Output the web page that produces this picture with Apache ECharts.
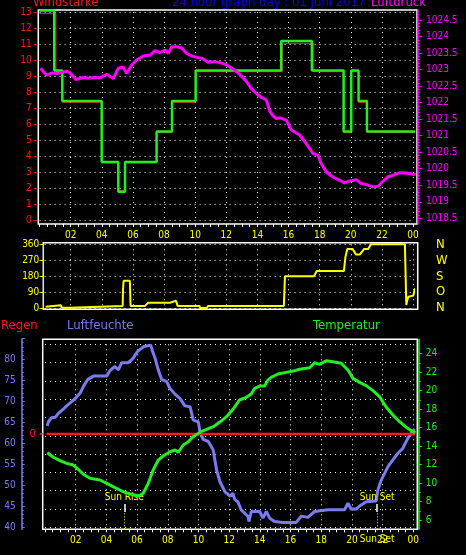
<!DOCTYPE html>
<html><head><meta charset="utf-8">
<script src="https://cdn.jsdelivr.net/npm/echarts@6/dist/echarts.min.js"></script>
<style>html,body{margin:0;padding:0;background:#000;}#c{width:466px;height:555px;}</style>
</head><body><div id="c"></div>
<script>
// ---------- data ----------
const windHours = [0.0, 0.94, 1.46, 3.99, 5.06, 5.49, 7.52, 8.51, 10.03, 15.53, 17.5, 19.54, 20.03, 20.5, 21.04, 24.17];
const windSpeed = [13.1, 9.35, 7.45, 3.65, 1.8, 3.65, 5.55, 7.45, 9.35, 11.2, 9.35, 5.55, 9.35, 7.45, 5.55, 5.55];
const windAvgHours = [0.0, 1.05, 1.46, 3.99, 5.03, 5.49, 7.52, 8.51, 10.03, 15.6, 17.62, 19.54, 20.03, 20.5, 21.04, 24.17];
const windAvg = [12.9, 9.28, 7.38, 3.6, 1.87, 3.6, 5.5, 7.38, 9.28, 11.05, 9.28, 5.5, 9.28, 7.38, 5.5, 5.5];

const pressHours = [0.07,0.25,0.46,0.8,1.1,1.45,1.74,1.95,2.34,2.81,3.15,3.45,3.88,4.31,4.74,5.06,5.38,5.6,5.92,6.24,6.67,7.1,7.42,7.74,8.06,8.27,8.49,8.81,9.13,9.45,9.78,10.1,10.42,10.84,11.2,11.6,12.02,12.43,12.86,13.28,13.6,14.04,14.3,14.57,14.79,15.0,15.21,15.43,15.86,16.18,16.72,17.14,17.57,17.89,18.1,18.43,18.85,19.29,19.6,19.93,20.36,20.67,21.0,21.43,21.75,22.07,22.39,22.82,23.14,23.57,24.0,24.17];
const pressure = [1023.04,1022.93,1022.83,1022.9,1022.88,1022.92,1022.95,1022.9,1022.7,1022.76,1022.74,1022.76,1022.75,1022.86,1022.73,1023.04,1023.07,1022.88,1023.14,1023.29,1023.41,1023.44,1023.57,1023.51,1023.59,1023.49,1023.69,1023.69,1023.66,1023.49,1023.41,1023.37,1023.34,1023.22,1023.24,1023.21,1023.14,1023.02,1022.86,1022.65,1022.43,1022.23,1022.15,1022.08,1021.75,1021.6,1021.52,1021.54,1021.47,1021.17,1021.02,1020.76,1020.46,1020.41,1020.16,1019.9,1019.75,1019.65,1019.57,1019.63,1019.67,1019.55,1019.52,1019.45,1019.47,1019.62,1019.75,1019.82,1019.88,1019.87,1019.83,1019.83];

const dirHours = [0.39,0.45,1.37,1.42,1.95,2.0,5.34,5.36,5.4,5.8,5.85,6.77,6.98,8.38,8.45,8.77,8.87,10.27,10.33,10.74,10.84,15.7,15.77,17.64,17.81,19.56,19.66,19.78,20.12,20.33,20.59,20.85,21.12,21.3,23.48,23.57,23.62,23.7,24.02,24.1,24.13];
const direction = [7,15,15,2,2,12,12,100,154,154,12,12,30,30,41,41,12,12,0,0,12,12,180,180,209,209,290,333,333,303,303,333,333,360,360,17,40,64,70,100,111];
const dirLabels = {0:'N', 90:'O', 180:'S', 270:'W', 360:'N'};

const humHours = [0.15,0.22,0.44,0.65,0.87,1.19,1.41,1.74,2.06,2.28,2.5,2.76,3.15,4.02,4.23,4.56,4.78,5.0,5.43,5.75,6.01,6.4,6.89,7.02,7.17,7.38,7.6,7.93,8.14,8.47,8.79,9.12,9.45,9.66,9.99,10.1,10.31,10.64,10.96,11.18,11.4,11.73,12.05,12.25,12.36,12.57,12.79,13.23,13.29,13.44,13.99,14.2,14.42,14.64,14.96,15.5,16.37,16.7,17.13,17.57,18.44,19.52,19.74,19.95,20.28,20.5,20.93,21.58,21.69,21.91,22.13,22.35,22.67,23.0,23.32,23.65,23.86,24.08];
const humidity = [64.1,65.1,66.1,66.1,67.1,68.1,68.9,69.9,71.0,71.9,73.5,75.1,76.0,76.0,77.3,78.3,77.5,79.2,79.2,80.3,81.8,83.0,83.4,81.8,80.3,77.5,75.2,74.7,73.1,71.7,70.7,68.9,68.7,65.5,65.1,62.7,60.9,60.4,58.4,53.6,50.8,48.4,47.4,48.0,46.6,46.0,44.1,42.5,41.3,43.7,43.7,42.1,43.7,42.1,41.3,41.1,41.1,42.6,42.3,43.7,44.1,44.1,45.7,44.3,44.3,45.0,46.0,46.2,48.8,51.2,52.8,54.4,56.0,57.6,58.8,61.2,62.4,63.4];

const tempHours = [0.15,0.54,0.98,1.41,1.84,2.17,2.49,2.93,3.58,4.02,4.56,5.1,5.65,6.08,6.4,6.73,7.05,7.38,7.7,8.14,8.47,8.68,9.01,9.34,9.66,10.1,10.53,10.96,11.4,11.83,12.25,12.68,13.11,13.44,13.66,13.99,14.31,14.53,14.74,15.18,15.72,16.27,16.59,17.24,17.57,17.89,18.33,18.76,19.3,19.74,20.07,20.5,20.93,21.37,21.8,22.24,22.67,23.11,23.54,23.97,24.15];
const temperature = [13.28,12.79,12.42,12.13,11.95,11.49,10.95,10.51,10.33,9.97,9.5,9.06,8.78,8.6,8.89,9.97,11.41,12.49,12.93,13.39,13.58,13.33,14.12,14.47,15.02,15.5,15.8,16.1,16.6,17.18,17.98,18.99,19.28,19.64,20.25,20.5,20.5,21.15,21.44,21.8,21.98,22.16,22.31,22.48,23.02,22.85,23.24,23.13,22.96,22.23,21.33,20.9,20.54,20.0,19.35,18.2,17.36,16.64,16.03,15.56,15.45];

const rainHours = [0.1, 24.15];
const rain = [0, 0];

const sunRise = 5.17, sunSet = 21.65;
const titleText = '24 hour graph day : 01 Juni 2017';

// ---------- chart ----------
const FONT = "'Liberation Sans Narrow','DejaVu Sans Condensed','Liberation Sans',sans-serif";
const C = {red:'#ff1a1a', blue:'#0000ff', mag:'#ff00ff', green:'#22ee22', yellow:'#ffff00', hum:'#7b7bef', white:'#ffffff'};
const zip = (a, b) => a.map((x, i) => [x, b[i]]);
const dotted = {show:true, showMinLine:false, lineStyle:{color:'#ffffff', type:[1,4], width:1}};
const hourFmt = v => { if (v === 0) return ''; const h = Math.round(v) % 24; return (h < 10 ? '0' : '') + h; };
const lbl = (color, extra) => Object.assign({color, fontSize:10, fontFamily:FONT}, extra || {});
const noLine = {show:false, onZero:false};
const boxGrid = (g) => Object.assign({show:true, borderColor:'#ffffff', borderWidth:1.5, backgroundColor:'transparent', outerBoundsMode:'none'}, g);
const grid = (g) => Object.assign({outerBoundsMode:'none', containLabel:false}, g);
const hiddenX = (gi) => ({type:'value', gridIndex:gi, min:0, max:24, show:false, axisLine:noLine});
const hiddenY = (gi) => ({type:'value', gridIndex:gi, min:0, max:1, show:false, axisLine:noLine});
const lineOnly = (gi, pos, offset, color) => ({type:'value', gridIndex:gi, position:pos, offset, min:0, max:1,
  axisLine:{show:true, onZero:false, lineStyle:{color, width:1.5}}, axisTick:{show:false}, axisLabel:{show:false}, splitLine:{show:false}});
const titleItem = (text, left, top, color) => ({text, left, top, padding:0,
  textStyle:{color, fontSize:13, fontWeight:'normal', fontFamily:FONT}});
const sunLabel = (text, position, distance) => ({show:true, position, distance, formatter:text,
  color:C.yellow, fontSize:10, fontFamily:FONT});

const option = {
  backgroundColor:'#000000',
  animation:false,
  title:[
    titleItem('Windstärke', 33, -4, C.red),
    titleItem(titleText, 172, -4, C.blue),
    titleItem('Luftdruck', 371, -4, C.mag),
    titleItem('Regen', 1, 319, C.red),
    titleItem('Luftfeuchte', 67, 319, C.hum),
    titleItem('Temperatur', 313, 319, C.green)
  ],
  grid:[
    boxGrid({left:38.3, top:10, width:378.7, height:214}),     //0 top box
    grid({left:39.6, top:12, width:373.4, height:208.7}),      //1 wind
    grid({left:39.6, top:20, width:373.4, height:198.3}),      //2 pressure
    boxGrid({left:43.3, top:242.7, width:374.4, height:66.6}), //3 middle box
    grid({left:39.6, top:244.3, width:373.4, height:63.7}),    //4 direction
    boxGrid({left:42.7, top:339.3, width:374.6, height:190}),  //5 bottom box
    grid({left:45, top:344.3, width:368.3, height:183}),       //6 bottom gridlines
    grid({left:45, top:338.4, width:368.3, height:188.6}),     //7 humidity
    grid({left:45, top:353.7, width:368.3, height:166.3}),     //8 temperature
    grid({left:45, top:433, width:368.3, height:1}),           //9 rain
    grid({left:45, top:504, width:368.3, height:25.3})         //10 sun markers
  ],
  xAxis:[
    hiddenX(0),
    {type:'value', gridIndex:1, min:0, max:24, interval:2, position:'bottom', offset:3.3,
      axisLine:noLine,
      axisTick:{show:true, length:3, lineStyle:{color:'#fff'}},
      minorTick:{show:true, splitNumber:4, length:3, lineStyle:{color:'#fff'}},
      axisLabel:lbl(C.yellow, {margin:6, formatter:hourFmt, showMinLabel:false}),
      splitLine:dotted},
    hiddenX(2),
    hiddenX(3),
    {type:'value', gridIndex:4, min:0, max:24, interval:2, axisLine:noLine, axisTick:{show:false},
      axisLabel:{show:false}, splitLine:dotted},
    hiddenX(5),
    {type:'value', gridIndex:6, min:0, max:24, interval:2, position:'bottom', offset:2,
      axisLine:noLine,
      axisTick:{show:true, length:3, lineStyle:{color:'#fff'}},
      minorTick:{show:true, splitNumber:4, length:3, lineStyle:{color:'#fff'}},
      axisLabel:lbl(C.yellow, {margin:6, formatter:hourFmt, showMinLabel:false}),
      splitLine:dotted},
    hiddenX(7),
    hiddenX(8),
    hiddenX(9),
    hiddenX(10)
  ],
  yAxis:[
    lineOnly(0, 'right', 1, C.mag),                                  //0
    {type:'value', gridIndex:1, min:0, max:13, interval:1, position:'left', offset:3,   //1 wind
      axisLine:noLine,
      axisTick:{show:true, length:3, lineStyle:{color:C.red}},
      axisLabel:lbl(C.red, {margin:5}),
      splitLine:{show:true, lineStyle:{color:'#fff', type:[1,4], width:1}}},
    {type:'value', gridIndex:2, min:1018.5, max:1024.5, interval:0.5, position:'right', offset:5,  //2 pressure
      axisLine:noLine,
      axisTick:{show:true, length:4, lineStyle:{color:C.mag}},
      minorTick:{show:true, splitNumber:5, length:2, lineStyle:{color:C.mag}},
      axisLabel:lbl(C.mag, {margin:8, formatter:v => String(v)}),
      splitLine:{show:false}},
    hiddenY(3),                                                        //3
    {type:'value', gridIndex:4, min:0, max:360, interval:90, position:'left', offset:-3.7,  //4 direction
      axisLine:{show:true, onZero:false, lineStyle:{color:C.yellow, width:1}},
      axisTick:{show:true, length:3, lineStyle:{color:C.yellow}},
      axisLabel:lbl(C.yellow, {margin:4}),
      splitLine:{show:true, lineStyle:{color:'#fff', type:[1,4], width:1}}},
    {type:'value', gridIndex:4, min:0, max:360, interval:90, position:'right', offset:20,     //5 N W S O N
      axisLine:noLine, axisTick:{show:false}, splitLine:{show:false},
      axisLabel:{color:C.yellow, fontSize:13, fontFamily:FONT, margin:3, formatter:v => dirLabels[v] || ''}},
    lineOnly(5, 'left', 21, C.hum),                                    //6
    lineOnly(5, 'right', 1.4, C.green),                                //7
    {type:'value', gridIndex:6, min:0, max:10, interval:1, axisLine:noLine, axisTick:{show:false},  //8
      axisLabel:{show:false}, splitLine:{show:true, lineStyle:{color:'#fff', type:[1,4], width:1}}},
    {type:'value', gridIndex:7, min:40, max:85, interval:5, position:'left', offset:23.3,   //9 humidity
      axisLine:noLine,
      axisTick:{show:true, inside:true, length:3, lineStyle:{color:C.hum}},
      minorTick:{show:true, splitNumber:5, length:2, lineStyle:{color:C.hum}},
      axisLabel:lbl(C.hum, {margin:6, formatter:v => v >= 85 ? '' : String(v)}),
      splitLine:{show:false}},
    {type:'value', gridIndex:8, min:6, max:24, interval:2, position:'right', offset:5.4,     //10 temperature
      axisLine:noLine,
      axisTick:{show:true, length:3, lineStyle:{color:C.green}},
      minorTick:{show:true, splitNumber:2, length:2, lineStyle:{color:C.green}},
      axisLabel:lbl(C.green, {margin:7}),
      splitLine:{show:false}},
    {type:'value', gridIndex:9, min:0, max:1, interval:1, position:'left', offset:2.3,       //11 rain
      axisLine:noLine,
      axisTick:{show:true, length:3, lineStyle:{color:C.red}},
      axisLabel:lbl(C.red, {margin:7, fontSize:11, formatter:v => v === 0 ? '0' : ''}),
      splitLine:{show:false}},
    hiddenY(10)                                                        //12 sun markers
  ],
  series:[
    {type:'line', xAxisIndex:1, yAxisIndex:1, data:zip(windAvgHours, windAvg), step:'end', symbol:'none',
      color:C.red, lineStyle:{color:C.red, width:1}, clip:false, z:3},
    {type:'line', xAxisIndex:1, yAxisIndex:1, data:zip(windHours, windSpeed), step:'end', symbol:'none',
      color:C.green, lineStyle:{color:C.green, width:2.5}, clip:false, z:4},
    {type:'line', xAxisIndex:2, yAxisIndex:2, data:zip(pressHours, pressure), symbol:'none',
      color:C.mag, lineStyle:{color:C.mag, width:3}, clip:false, z:5},
    {type:'line', xAxisIndex:4, yAxisIndex:4, data:zip(dirHours, direction), symbol:'none',
      color:C.yellow, lineStyle:{color:C.yellow, width:2}, clip:false, z:4},
    {type:'line', xAxisIndex:7, yAxisIndex:9, data:zip(humHours, humidity), symbol:'none',
      color:C.hum, lineStyle:{color:C.hum, width:3}, clip:false, z:3},
    {type:'line', xAxisIndex:9, yAxisIndex:11, data:zip(rainHours, rain), symbol:'none',
      color:C.red, lineStyle:{color:C.red, width:2.5}, clip:false, z:4},
    {type:'line', xAxisIndex:8, yAxisIndex:10, data:zip(tempHours, temperature), symbol:'none',
      color:C.green, lineStyle:{color:C.green, width:3}, clip:false, z:5},
    {type:'line', xAxisIndex:10, yAxisIndex:12, data:[], symbol:'none', lineStyle:{width:0}, z:6,
      markLine:{silent:true, symbol:['none','none'], animation:false, label:{show:false},
        data:[
          [{coord:[sunRise, 0], lineStyle:{color:C.yellow, type:[1,2], width:1}}, {coord:[sunRise, 0.68]}],
          [{coord:[sunRise, 0.68], lineStyle:{color:'#fff', type:'solid', width:1.5}, label:sunLabel('Sun Rise','end',2)},
           {coord:[sunRise, 1]}],
          [{coord:[sunSet, 0], lineStyle:{color:C.yellow, type:[1,2], width:1}, label:sunLabel('Sun Set','start',5)},
           {coord:[sunSet, 0.68]}],
          [{coord:[sunSet, 0.68], lineStyle:{color:'#fff', type:'solid', width:1.5}, label:sunLabel('Sun Set','end',2)},
           {coord:[sunSet, 1]}]
        ]}}
  ]
};
const chart = echarts.init(document.getElementById('c'), null, {renderer:'canvas'});
chart.setOption(option);
</script>
</body></html>
